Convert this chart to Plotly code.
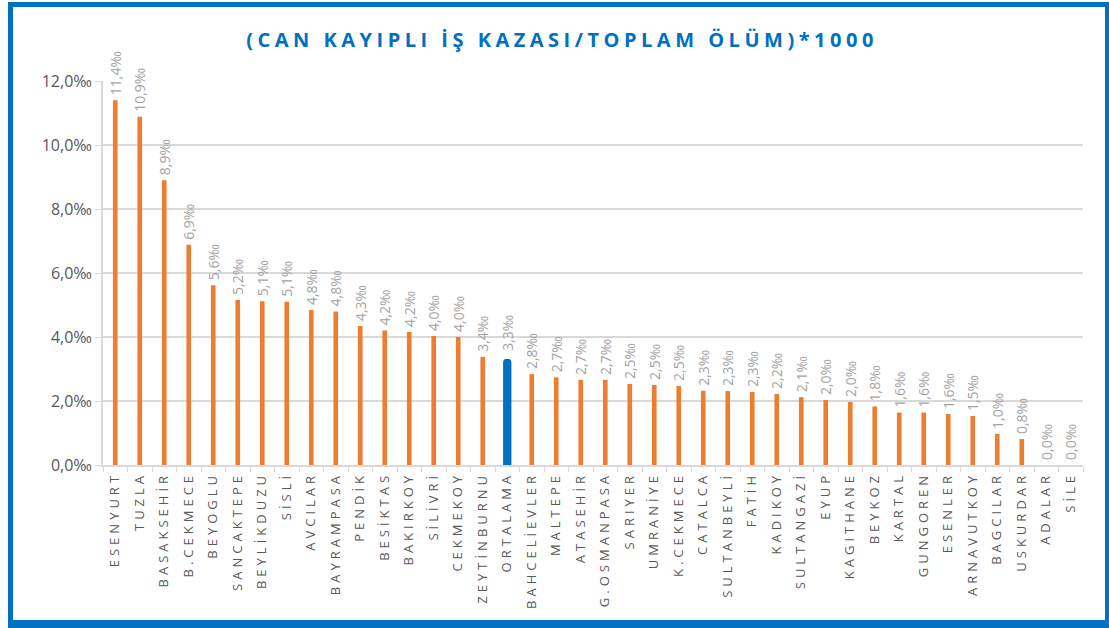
import plotly.graph_objects as go

categories = ["ESENYURT", "TUZLA", "BASAKSEHİR", "B.CEKMECE", "BEYOGLU", "SANCAKTEPE",
              "BEYLİKDUZU", "SİSLİ", "AVCILAR", "BAYRAMPASA", "PENDİK", "BESİKTAS",
              "BAKIRKOY", "SİLİVRİ", "CEKMEKOY", "ZEYTİNBURNU", "ORTALAMA", "BAHCELİEVLER",
              "MALTEPE", "ATASEHİR", "G.OSMANPASA", "SARIYER", "UMRANİYE", "K.CEKMECE",
              "CATALCA", "SULTANBEYLİ", "FATİH", "KADIKOY", "SULTANGAZİ", "EYUP",
              "KAGITHANE", "BEYKOZ", "KARTAL", "GUNGOREN", "ESENLER", "ARNAVUTKOY",
              "BAGCILAR", "USKURDAR", "ADALAR", "SİLE"]
values = [11.40, 10.88, 8.90, 6.88, 5.62, 5.16,
          5.12, 5.10, 4.84, 4.80, 4.34, 4.20,
          4.16, 4.03, 4.00, 3.38, 3.32, 2.84,
          2.74, 2.66, 2.66, 2.53, 2.50, 2.47,
          2.32, 2.31, 2.28, 2.22, 2.12, 2.03,
          1.97, 1.83, 1.64, 1.64, 1.59, 1.53,
          0.97, 0.81, 0.0, 0.0]
highlight = "ORTALAMA"
title_text = "(CAN KAYIPLI İŞ KAZASI/TOPLAM ÖLÜM)*1000"
y_ticks = [0, 2, 4, 6, 8, 10, 12]
y_ticktext = [f"{v:.1f}".replace(".", ",") + "‰" for v in y_ticks]

ORANGE = "#ED7D31"
BLUE = "#0070C0"

main_vals = [None if c == highlight else v for c, v in zip(categories, values)]
hl_vals = [v if c == highlight else None for c, v in zip(categories, values)]

fig = go.Figure()
fig.add_trace(go.Bar(
    x=categories, y=main_vals, width=0.19,
    marker=dict(color=ORANGE, line=dict(width=0)),
    texttemplate="%{y:.1f}‰", textposition="outside", textangle=-90,
    textfont=dict(family="Open Sans", size=14, color="#A3A3A3"),
    constraintext="none", cliponaxis=False, showlegend=False,
))
fig.add_trace(go.Bar(
    x=categories, y=hl_vals, width=0.34,
    marker=dict(color=BLUE, line=dict(width=0), cornerradius=4),
    texttemplate="%{y:.1f}‰", textposition="outside", textangle=-90,
    textfont=dict(family="Open Sans", size=14, color="#A3A3A3"),
    constraintext="none", cliponaxis=False, showlegend=False,
))

L, R, T, B = 103, 26, 81, 163
W, H = 1109, 628
pw, ph = W - L - R, H - T - B

def px(x):
    return (x - L) / pw

def py(y):
    return (H - B - y) / ph

shapes = [
    dict(type="rect", xref="paper", yref="paper", x0=px(8), x1=px(13), y0=py(628), y1=py(2),
         fillcolor=BLUE, line=dict(width=0), layer="above"),
    dict(type="rect", xref="paper", yref="paper", x0=px(8), x1=px(1109), y0=py(7), y1=py(2),
         fillcolor=BLUE, line=dict(width=0), layer="above"),
    dict(type="rect", xref="paper", yref="paper", x0=px(8), x1=px(1109), y0=py(628), y1=py(620),
         fillcolor=BLUE, line=dict(width=0), layer="above"),
    dict(type="rect", xref="paper", yref="paper", x0=px(1105), x1=px(1109), y0=py(628), y1=py(2),
         fillcolor=BLUE, line=dict(width=0), layer="above"),
]

fig.update_layout(
    width=W, height=H,
    margin=dict(l=L, r=R, t=T, b=B, pad=0),
    paper_bgcolor="white", plot_bgcolor="white",
    separators=",.",
    barmode="overlay",
    title=dict(text=title_text, x=562 / W, xanchor="center", y=1 - 40 / H, yanchor="middle",
               font=dict(family="Open Sans", size=20, color=BLUE, weight="bold")),
    xaxis=dict(type="category", tickangle=-90, showgrid=False,
               showline=True, linecolor="#D9D9D9", linewidth=1.5,
               ticks="outside", tickson="boundaries", ticklen=5, tickcolor="#D9D9D9",
               tickfont=dict(family="Open Sans", size=13, color="#595959"),
               range=[-0.5, len(categories) - 0.5]),
    yaxis=dict(range=[0, 12], tickmode="array", tickvals=y_ticks, ticktext=y_ticktext,
               showgrid=True, gridcolor="#D9D9D9", gridwidth=1.5,
               showline=True, linecolor="#D9D9D9", linewidth=1.5,
               ticks="outside", ticklen=6, tickcolor="#D9D9D9",
               zeroline=False,
               tickfont=dict(family="Open Sans", size=16, color="#595959")),
    shapes=shapes,
)

post = """
document.body.style.margin = '0';
document.querySelectorAll('.xtick text').forEach(function(t){ t.style.letterSpacing = '4px'; });
document.querySelectorAll('.gtitle').forEach(function(t){ t.style.letterSpacing = '4.5px'; });
document.querySelectorAll('.bartext').forEach(function(t){
  var tr = t.getAttribute('transform') || '';
  t.setAttribute('transform', 'translate(0,-5) ' + tr);
});
"""

fig.write_html("out.html", post_script=post, config={"displayModeBar": False})
